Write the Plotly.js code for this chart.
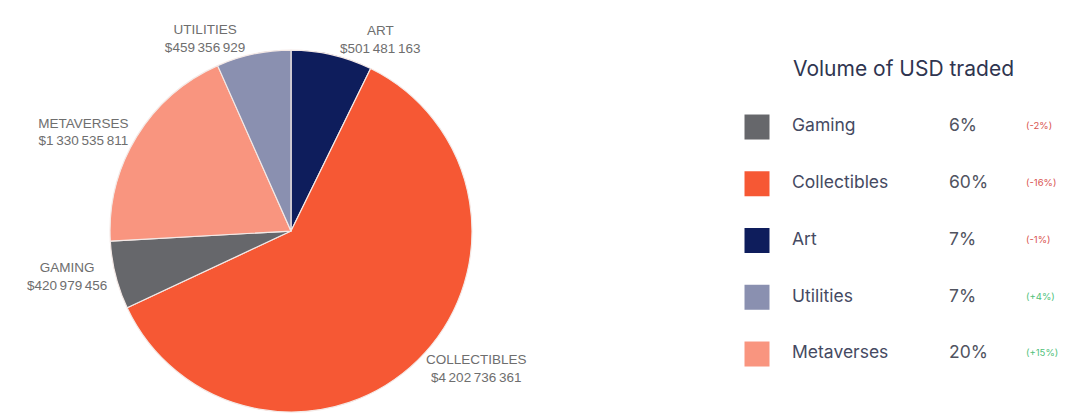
<!DOCTYPE html>
<html>
<head>
<meta charset="utf-8">
<script src="https://cdn.plot.ly/plotly-3.0.1.min.js"></script>
<style>html,body{margin:0;padding:0;background:#fff}#chart{width:1075px;height:414px}</style>
</head>
<body>
<div id="chart"></div>
<script>
// Pie data (clockwise from 12 o'clock)
const categories = ["Art", "Collectibles", "Gaming", "Metaverses", "Utilities"];
const volumes = [501481163, 4202736361, 420979456, 1330535811, 459356929];
const sliceColors = ["#0e1d5c", "#f65834", "#66676b", "#f9957f", "#8a90b0"];

// Legend table data
const legendTitle = "Volume of USD traded";
const legendNames = ["Gaming", "Collectibles", "Art", "Utilities", "Metaverses"];
const legendShares = ["6%", "60%", "7%", "7%", "20%"];
const legendChanges = ["(-2%)", "(-16%)", "(-1%)", "(+4%)", "(+15%)"];
const legendColors = ["#66676b", "#f65834", "#0e1d5c", "#8a90b0", "#f9957f"];
const changeColors = legendChanges.map(c => c.indexOf("+") >= 0 ? "#4fbf7a" : "#d9534f");

const rows = legendNames.map((_, i) => i);

const traces = [
  {
    type: "pie",
    labels: categories,
    values: volumes,
    text: categories.map(c => c.toUpperCase()),
    texttemplate: "%{text}<br>$%{value:,}",
    textposition: "outside",
    textfont: {family: "'Liberation Sans', Arial, sans-serif", size: 13.5, color: "#6e6e6e"},
    marker: {colors: sliceColors, line: {color: "#f4e9e6", width: 1.2}},
    sort: false,
    direction: "clockwise",
    rotation: 0,
    showlegend: false,
    hoverinfo: "none",
    domain: {x: [0.1023, 0.4391], y: [0.0048, 0.879]}
  },
  {
    type: "scatter", mode: "markers", xaxis: "x", yaxis: "y",
    x: rows.map(() => 757), y: rows,
    marker: {symbol: "square", size: 25, color: legendColors, line: {width: 0}},
    showlegend: false, hoverinfo: "none"
  },
  {
    type: "scatter", mode: "text", xaxis: "x", yaxis: "y",
    x: rows.map(() => 792), y: rows, text: legendNames,
    textposition: "middle right",
    textfont: {family: "Inter, 'Noto Sans', sans-serif", size: 17.5, color: "#454a62"},
    showlegend: false, hoverinfo: "none"
  },
  {
    type: "scatter", mode: "text", xaxis: "x", yaxis: "y",
    x: rows.map(() => 949), y: rows, text: legendShares,
    textposition: "middle right",
    textfont: {family: "Inter, 'Noto Sans', sans-serif", size: 17.5, color: "#50535f"},
    showlegend: false, hoverinfo: "none"
  },
  {
    type: "scatter", mode: "text", xaxis: "x", yaxis: "y",
    x: rows.map(() => 1026), y: rows, text: legendChanges,
    textposition: "middle right",
    textfont: {family: "Inter, 'Noto Sans', sans-serif", size: 9.5, color: changeColors},
    showlegend: false, hoverinfo: "none"
  }
];

const layout = {
  width: 1075, height: 414,
  margin: {l: 0, r: 0, t: 0, b: 0},
  paper_bgcolor: "#ffffff", plot_bgcolor: "rgba(0,0,0,0)",
  separators: ".\u2009",
  xaxis: {domain: [0, 1], range: [0, 1075], visible: false, fixedrange: true},
  yaxis: {domain: [0, 1], range: [5.057, -2.238], visible: false, fixedrange: true},
  annotations: [{
    text: legendTitle, xref: "paper", yref: "paper",
    x: 791 / 1075, y: 1 - 69 / 414, xanchor: "left", yanchor: "middle",
    showarrow: false,
    font: {family: "Inter, 'Noto Sans', sans-serif", size: 21, color: "#2f3550"}
  }]
};

Plotly.newPlot("chart", traces, layout, {displayModeBar: false, staticPlot: true});
</script>
</body>
</html>
